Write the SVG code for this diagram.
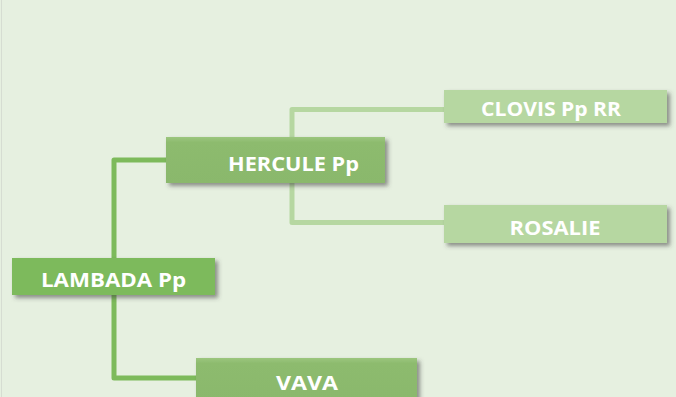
<svg xmlns="http://www.w3.org/2000/svg" width="676" height="397" viewBox="0 0 676 397">
  <defs>
    <filter id="shadow" x="-10%" y="-30%" width="125%" height="170%">
      <feDropShadow dx="3" dy="3" stdDeviation="2" flood-color="#404040" flood-opacity="0.55"/>
    </filter>
    <linearGradient id="midGrad" x1="0" y1="0" x2="0" y2="1">
      <stop offset="0" stop-color="#9CC67E"/>
      <stop offset="0.12" stop-color="#8DBB6E"/>
      <stop offset="1" stop-color="#8AB86C"/>
    </linearGradient>
    <style>
      .lbl { font-family: "Open Sans", "Liberation Sans", Arial, sans-serif; font-weight: 700; font-size: 20px; fill: #FFFFFF; text-anchor: middle; }
      .dark { fill: #7DBA5B; }
      .mid { fill: url(#midGrad); }
      .light { fill: #B6D7A1; }
      .c-dark { fill: none; stroke: #7DBA5B; stroke-width: 5; stroke-linejoin: round; }
      .c-light { fill: none; stroke: #B6D7A1; stroke-width: 5; stroke-linejoin: round; }
    </style>
  </defs>

  <rect x="0" y="0" width="676" height="397" fill="#E6F0E0"/>
  <line x1="1.5" y1="0" x2="1.5" y2="397" stroke="#D6DDD2" stroke-width="1"/>

  <g id="connectors">
    <path class="c-dark" d="M166,160 H114 V378 H197"/>
    <path class="c-light" d="M445,109.5 H292 V222.5 H445"/>
  </g>

  <g id="node-lambada">
    <rect class="dark" x="12" y="258" width="203" height="37" filter="url(#shadow)"/>
    <text class="lbl" x="113.5" y="286.5" textLength="145" lengthAdjust="spacingAndGlyphs">LAMBADA Pp</text>
  </g>

  <g id="node-hercule">
    <rect class="mid" x="166" y="137" width="219" height="46" filter="url(#shadow)"/>
    <text class="lbl" x="293.5" y="171" textLength="131" lengthAdjust="spacingAndGlyphs">HERCULE Pp</text>
  </g>

  <g id="node-clovis">
    <rect class="light" x="444" y="90" width="223" height="33" filter="url(#shadow)"/>
    <text class="lbl" x="551" y="116" textLength="140" lengthAdjust="spacingAndGlyphs">CLOVIS Pp RR</text>
  </g>

  <g id="node-rosalie">
    <rect class="light" x="444" y="205" width="223" height="38" filter="url(#shadow)"/>
    <text class="lbl" x="555" y="235" textLength="91" lengthAdjust="spacingAndGlyphs">ROSALIE</text>
  </g>

  <g id="node-vava">
    <rect class="mid" x="196" y="358" width="221" height="45" filter="url(#shadow)"/>
    <text class="lbl" x="307" y="389.5" textLength="62" lengthAdjust="spacingAndGlyphs">VAVA</text>
  </g>
</svg>
